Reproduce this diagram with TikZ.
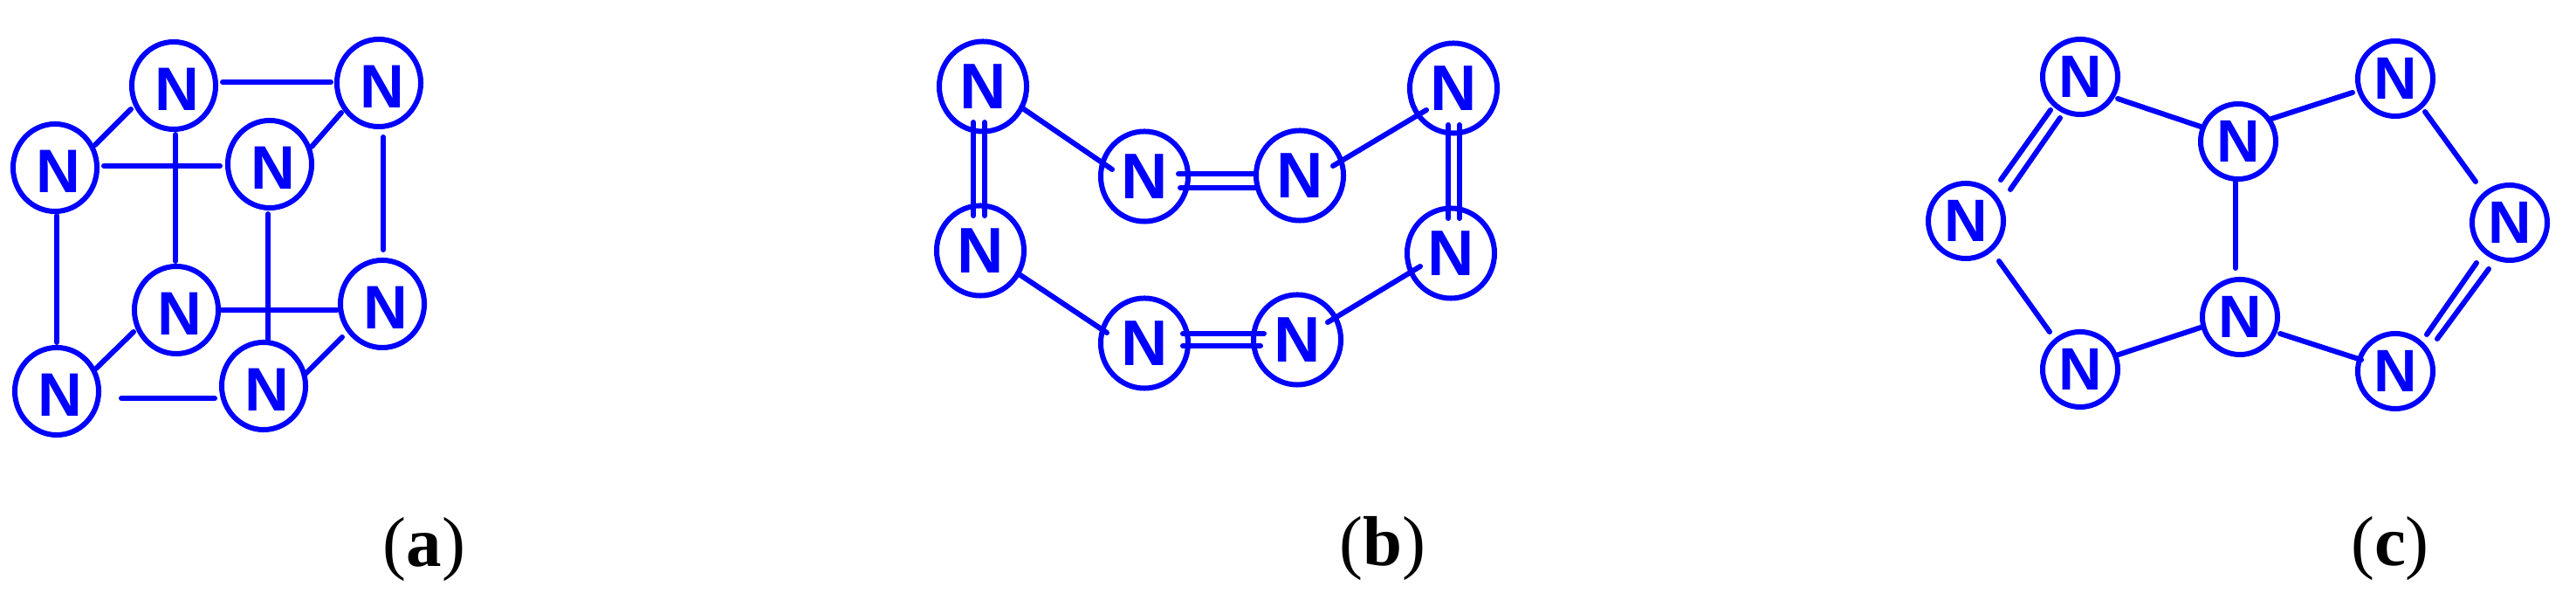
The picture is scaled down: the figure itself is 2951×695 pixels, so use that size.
\documentclass[tikz,border=0pt]{standalone}
\usetikzlibrary{shapes.geometric}
\usepackage{fontspec}
\setmainfont{Liberation Serif}
\setsansfont{Liberation Sans}

\newcommand{\Na}{\kern 2.3pt\raisebox{-1.15pt}[\height][0pt]{N}}

\begin{document}
\begin{tikzpicture}[
  x = .01cm,
  y = -.01cm,
  atom/.style={ellipse,draw=blue,text=blue,line width=.06cm,inner sep=0pt,font=\sffamily\bfseries\fontsize{20}{20}\selectfont},
  atoma/.style={atom,minimum width=.96cm,minimum height=1cm},
  atomb/.style={atom,minimum width=1cm,minimum height=1.03cm,font=\sffamily\bfseries\fontsize{21}{21}\selectfont},
  atomc/.style={atom,minimum width=.86cm,minimum height=.86cm,font=\sffamily\bfseries\fontsize{19.5}{19.5}\selectfont},
  bond/.style={blue,line width=.06cm,line cap=round},
  caption/.style={inner sep=0pt,font=\fontsize{23}{23}\selectfont}
  ]
	\useasboundingbox (0,0) rectangle (2951,695);

	%draw the cube
	\node[atoma] (a1) at (199,98) {\Na};
	\node[atoma] (a2) at (434,95) {\Na};
	\node[atoma] (a3) at (63,192) {\Na};
	\node[atoma] (a4) at (309,188) {\Na};
	\node[atoma] (a5) at (202,355) {\Na};
	\node[atoma] (a6) at (438,348) {\Na};
	\node[atoma] (a7) at (65,448) {\Na};
	\node[atoma] (a8) at (302,442) {\Na};

	\draw[bond] ([shift={(56,-4)}]a1.center) -- ([shift={(-55,-1)}]a2.center);
	\draw[bond] ([shift={(46,-26)}]a3.center) -- ([shift={(-49,27)}]a1.center);
	\draw[bond] ([shift={(-43,34)}]a2.center) -- ([shift={(48,-20)}]a4.center);
	\draw[bond] ([shift={(56,-2)}]a3.center) -- ([shift={(-57,2)}]a4.center);
	\draw[bond] ([shift={(2,56)}]a1.center) -- ([shift={(-1,-56)}]a5.center);
	\draw[bond] ([shift={(2,55)}]a3.center) -- ([shift={(0,-56)}]a7.center);
	\draw[bond] ([shift={(-2,57)}]a4.center) -- ([shift={(5,-52)}]a8.center);
	\draw[bond] ([shift={(5,62)}]a2.center) -- ([shift={(1,-62)}]a6.center);
	\draw[bond] ([shift={(52,0)}]a5.center) -- ([shift={(-52,7)}]a6.center);
	\draw[bond] ([shift={(45,-26)}]a7.center) -- ([shift={(-49,25)}]a5.center);
	\draw[bond] ([shift={(-46,38)}]a6.center) -- ([shift={(48,-14)}]a8.center);
	\draw[bond] ([shift={(74,8)}]a7.center) -- ([shift={(-56,14)}]a8.center);

	\node[caption] (capa) at (486,629) {(\textbf{a})};

	%draw the open ring
	\node[atomb] (b1) at (1126,99) {N};
	\node[atomb] (b2) at (1311,202) {N};
	\node[atomb] (b3) at (1489,201) {N};
	\node[atomb] (b4) at (1665,101) {N};
	\node[atomb] (b5) at (1123,287) {N};
	\node[atomb] (b6) at (1311,393) {N};
	\node[atomb] (b7) at (1486,389) {N};
	\node[atomb] (b8) at (1662,290) {N};

	\draw[bond] ([shift={(44,24)}]b1.center) -- ([shift={(-37,-8)}]b2.center);
	\draw[bond] ([shift={(38,-11)}]b3.center) -- ([shift={(-31,25)}]b4.center);
	\draw[bond] ([shift={(43,26)}]b5.center) -- ([shift={(-43,-12)}]b6.center);
	\draw[bond] ([shift={(35,-20)}]b7.center) -- ([shift={(-35,15)}]b8.center);

	% double bonds
	\draw[bond] ([shift={(-11,41)}]b1.center) -- ([shift={(-8,-40)}]b5.center);
	\draw[bond] ([shift={(2,41)}]b1.center) -- ([shift={(5,-40)}]b5.center);
	\draw[bond] ([shift={(39,-3)}]b2.center) -- ([shift={(-50,-2)}]b3.center);
	\draw[bond] ([shift={(41,13)}]b2.center) -- ([shift={(-50,14)}]b3.center);
	\draw[bond] ([shift={(-6,42)}]b4.center) -- ([shift={(-3,-40)}]b8.center);
	\draw[bond] ([shift={(7,42)}]b4.center) -- ([shift={(10,-40)}]b8.center);
	\draw[bond] ([shift={(44,-11)}]b6.center) -- ([shift={(-38,-7)}]b7.center);
	\draw[bond] ([shift={(44,3)}]b6.center) -- ([shift={(-42,7)}]b7.center);

	\node[caption] (capb) at (1584,628) {(\textbf{b})};

	%draw the two fused rings
	\node[atomc] (c1) at (2383,88) {N};
	\node[atomc] (c2) at (2564,162) {N};
	\node[atomc] (c3) at (2744,90) {N};
	\node[atomc] (c4) at (2252,253) {N};
	\node[atomc] (c5) at (2875,255) {N};
	\node[atomc] (c6) at (2566,363) {N};
	\node[atomc] (c7) at (2383,423) {N};
	\node[atomc] (c8) at (2744,425) {N};

	\draw[bond] ([shift={(43,25)}]c1.center) -- ([shift={(-43,-17)}]c2.center);
	\draw[bond] ([shift={(35,-25)}]c2.center) -- ([shift={(-49,16)}]c3.center);
	\draw[bond] ([shift={(-3,45)}]c2.center) -- ([shift={(-5,-56)}]c6.center);
	\draw[bond] ([shift={(34,38)}]c3.center) -- ([shift={(-39,-47)}]c5.center);
	\draw[bond] ([shift={(38,46)}]c4.center) -- ([shift={(-35,-43)}]c7.center);
	\draw[bond] ([shift={(41,-16)}]c7.center) -- ([shift={(-45,12)}]c6.center);
	\draw[bond] ([shift={(46,19)}]c6.center) -- ([shift={(-39,-13)}]c8.center);

	% double bonds
	\draw[bond] ([shift={(-34,38)}]c1.center) -- ([shift={(40,-47)}]c4.center);
	\draw[bond] ([shift={(-23,47)}]c1.center) -- ([shift={(51,-36)}]c4.center);
	\draw[bond] ([shift={(-38,46)}]c5.center) -- ([shift={(36,-42)}]c8.center);
	\draw[bond] ([shift={(-24,53)}]c5.center) -- ([shift={(48,-37)}]c8.center);

	\node[caption] (capc) at (2738,628) {(\textbf{c})};

\end{tikzpicture}
\end{document}
